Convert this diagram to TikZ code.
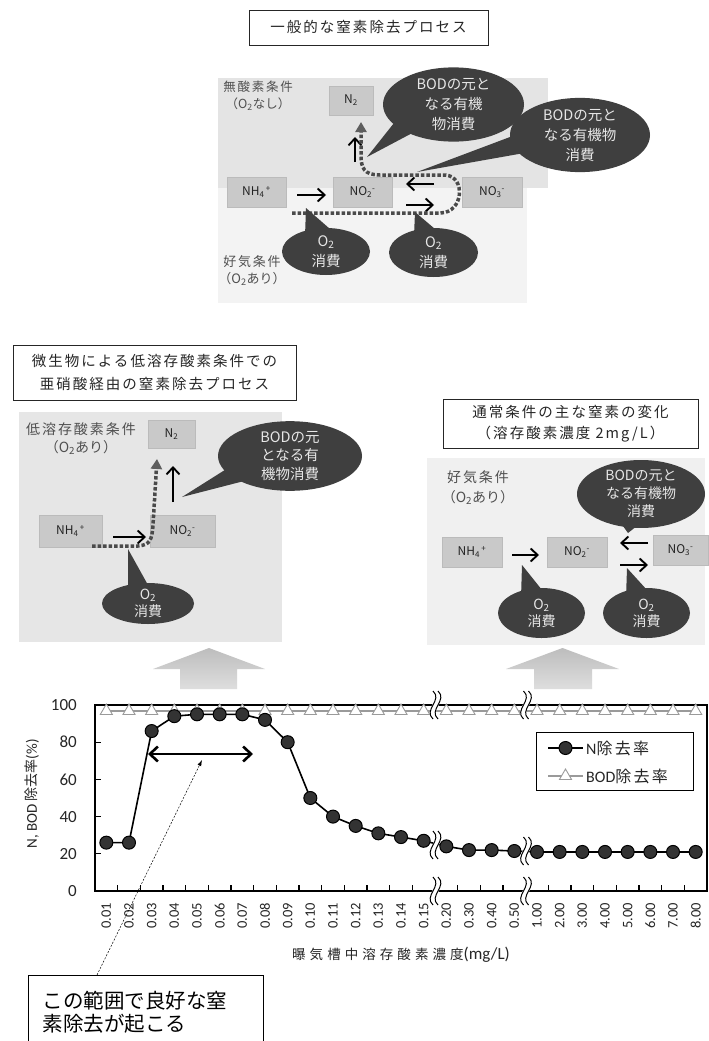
\documentclass[tikz,border=0pt]{standalone}
\usepackage{fontspec}
\setmainfont{Carlito}
\newfontfamily\jp{Noto Sans CJK JP}
\newfontfamily\jpl[LetterSpace=14]{Noto Sans CJK JP}
\newfontfamily\jpw[LetterSpace=30]{Noto Sans CJK JP}
\usetikzlibrary{shapes.geometric,arrows.meta,calc}
\definecolor{bubcol}{HTML}{3F3F3F}
\definecolor{bubtxt}{HTML}{E6E6E6}
\definecolor{boxcol}{HTML}{C9C9C9}
\definecolor{boxedge}{HTML}{BBBBBB}
\definecolor{chemtxt}{HTML}{222222}
\definecolor{condtxt}{HTML}{505050}
\definecolor{dotcol}{HTML}{4A4A4A}
\definecolor{headcol}{HTML}{5E5E5E}
\definecolor{bandA}{HTML}{E4E4E4}
\definecolor{bandB}{HTML}{F3F3F3}
\definecolor{panelL}{HTML}{E6E6E6}
\definecolor{panelR}{HTML}{F0F0F0}
\definecolor{arrtop}{HTML}{BDBDBD}
\definecolor{arrbot}{HTML}{DEDEDE}
\definecolor{ndotfill}{HTML}{333333}
\definecolor{bodcol}{HTML}{9A9A9A}
\newcommand\brkmark[2]{%
  \draw[white, line width=6pt] ({#1+2.5},{#2-14}) .. controls ({#1+12.5},{#2-5}) and ({#1-7.5},{#2+5}) .. ({#1+2.5},{#2+14});
  \draw[line width=1pt] ({#1},{#2-14}) .. controls ({#1+10},{#2-5}) and ({#1-10},{#2+5}) .. ({#1},{#2+14});
  \draw[line width=1pt] ({#1+5},{#2-14}) .. controls ({#1+15},{#2-5}) and ({#1-5},{#2+5}) .. ({#1+5},{#2+14});
}
\begin{document}
\begin{tikzpicture}[x=1pt,y=-1pt,
  bub/.style={ellipse, fill=bubcol, text=bubtxt, inner sep=0pt, align=center, font=\jp\fontsize{14.5}{20}\selectfont},
  bubtail/.style={fill=bubcol},
  chem/.style={rectangle, fill=boxcol, draw=boxedge, line width=0.5pt, inner sep=0pt, text=chemtxt, font=\jp\fontsize{12}{13}\selectfont},
  ttl/.style={draw=black!85, line width=0.9pt, fill=white, align=center, inner sep=0pt, text=black!85, font=\jpl\fontsize{14.5}{23}\selectfont},
  cond/.style={align=center, inner sep=0pt, text=condtxt},
  rxn/.style={line width=1.9pt, -{Straight Barb[length=7pt,width=13pt]}},
  dpath/.style={draw=dotcol, line width=3.5pt, dash pattern=on 3.5pt off 2pt, -{Triangle[length=10pt,width=11pt,color=headcol]}},
  bigarrow/.style={top color=arrtop, bottom color=arrbot},
  axisline/.style={line width=1.2pt},
  nline/.style={line width=1.6pt, black},
  ndot/.style={circle, fill=ndotfill, draw=black, line width=1pt, minimum size=13pt, inner sep=0pt},
  bline/.style={line width=1.3pt, bodcol},
  tri/.style={regular polygon, regular polygon sides=3, draw=bodcol, fill=white, line width=0.9pt, minimum size=14pt, inner sep=0pt},
  xl/.style={font=\fontsize{14.5}{16}\selectfont, inner sep=0pt, text=black!85},
  yl/.style={font=\fontsize{17}{19}\selectfont, inner sep=0pt, text=black!85},
  leader/.style={line width=0.5pt, dash pattern=on 2pt off 1.5pt, -{Latex[length=6pt,width=4pt]}}
]
\useasboundingbox (0,0) rectangle (709,1041);
\fill[white] (0,0) rectangle (709,1041);

% ================= TOP DIAGRAM =================
\node[ttl, minimum width=239, minimum height=35] (t1) at (368.5,27.5) {一般的な窒素除去プロセス};
\fill[bandA] (218,78) rectangle (548,188);
\fill[bandB] (218,188) rectangle (527,303);
\node[cond, font=\jpl\fontsize{12.5}{17}\selectfont] (c1) at (258,96) {無酸素条件\\{\jp（O\textsubscript{2}なし）}};
\node[cond, font=\jpl\fontsize{13}{17}\selectfont] (c2) at (252,270.5) {好気条件\\{\jp（O\textsubscript{2}あり）}};

\node[chem, minimum width=59, minimum height=30] (tNH) at (256.5,192) {NH\textsubscript{4}\textsuperscript{\,+}};
\node[chem, minimum width=59, minimum height=30] (tNO2) at (362.5,192) {NO\textsubscript{2}\textsuperscript{-}};
\node[chem, minimum width=60, minimum height=30] (tNO3) at (492,192) {NO\textsubscript{3}\textsuperscript{-}};
\node[chem, minimum width=44, minimum height=29] (tN2) at (351,100.5) {N\textsubscript{2}};

\coordinate (ta1) at (297,195); \coordinate (ta2) at (326,195);
\coordinate (tb1) at (434,184); \coordinate (tb2) at (406,184);
\coordinate (tc1) at (406,205); \coordinate (tc2) at (434,205);
\coordinate (td1) at (355,162); \coordinate (td2) at (355,137);
\draw[rxn] (ta1) -- (ta2);
\draw[rxn] (tb1) -- (tb2);
\draw[rxn] (tc1) -- (tc2);
\draw[rxn] (td1) -- (td2);

\coordinate (tp0) at (292,213); \coordinate (tpE) at (361,122);
\draw[dpath] (tp0) -- (440,213) .. controls (464,213) and (466,176) .. (445,175) -- (380,175) .. controls (364,175) and (361,168) .. (361,155) -- (tpE);

% bubbles top
\coordinate (bt1tip) at (367,157);
\fill[bubtail] (bt1tip) -- (398,118) -- (418,130) -- cycle;
\node[bub, minimum width=141, minimum height=63] (bt1) at (453.5,104.5) {BODの元と\\なる有機\\物消費};
\coordinate (bt2tip) at (417,172);
\fill[bubtail] (bt2tip) -- (518,134) -- (530,152) -- cycle;
\node[bub, minimum width=140, minimum height=64] (bt2) at (580,135) {BODの元と\\なる有機物\\消費};
\coordinate (bt3tip) at (306,208);
\fill[bubtail] (bt3tip) -- (305,236) -- (330,229) -- cycle;
\node[bub, minimum width=88, minimum height=47] (bt3) at (326,251.5) {O\textsubscript{2}\\消費};
\coordinate (bt4tip) at (415,212);
\fill[bubtail] (bt4tip) -- (414,236) -- (435,229) -- cycle;
\node[bub, minimum width=89, minimum height=49] (bt4) at (433.5,252.5) {O\textsubscript{2}\\消費};

% ================= MIDDLE LEFT =================
\node[ttl, minimum width=283, minimum height=55] (t2) at (154.5,372.5) {微生物による低溶存酸素条件での\\亜硝酸経由の窒素除去プロセス};
\fill[panelL] (19,412) rectangle (282,642);
\node[cond, font=\jpl\fontsize{14}{18}\selectfont] (c3) at (81,439) {低溶存酸素条件\\{\jp（O\textsubscript{2}あり）}};
\node[chem, minimum width=47, minimum height=28] (lN2) at (171.5,434) {N\textsubscript{2}};
\node[chem, minimum width=63, minimum height=32] (lNH) at (70.5,531) {NH\textsubscript{4}\textsuperscript{\,+}};
\node[chem, minimum width=65, minimum height=32] (lNO2) at (182.5,531) {NO\textsubscript{2}\textsuperscript{-}};
\coordinate (la1) at (113,537); \coordinate (la2) at (146,537);
\coordinate (lb1) at (173,502); \coordinate (lb2) at (173,466);
\draw[rxn] (la1) -- (la2);
\draw[rxn] (lb1) -- (lb2);
\coordinate (lp0) at (92,546); \coordinate (lpE) at (157,459);
\draw[dpath] (lp0) -- (138,546) .. controls (150,545) and (152,540) .. (153,525) -- (lpE);

\coordinate (bl1tip) at (182,497);
\fill[bubtail] (bl1tip) -- (228,468) -- (248,480) -- cycle;
\node[bub, minimum width=144, minimum height=68, font=\jp\fontsize{14.5}{18.5}\selectfont] (bl1) at (290,456) {BODの元\\となる有\\機物消費};
\coordinate (bl2tip) at (128,549);
\fill[bubtail] (bl2tip) -- (128,592) -- (148,585) -- cycle;
\node[bub, minimum width=92, minimum height=41, font=\jp\fontsize{14}{17}\selectfont] (bl2) at (148,603.5) {O\textsubscript{2}\\消費};

% ================= MIDDLE RIGHT =================
\node[ttl, minimum width=255, minimum height=49, font=\jpl\fontsize{14.5}{21}\selectfont] (t3) at (570.5,423.5) {通常条件の主な窒素の変化\\（溶存酸素濃度 2mg/L）};
\fill[panelR] (427,458) rectangle (705,645);
\node[cond, font=\jpl\fontsize{14}{20}\selectfont] (c4) at (478,488) {好気条件\\{\jp（O\textsubscript{2}あり）}};
\node[chem, minimum width=60, minimum height=30] (rNH) at (472,552) {NH\textsubscript{4}\textsuperscript{\,+}};
\node[chem, minimum width=60, minimum height=30] (rNO2) at (577,552) {NO\textsubscript{2}\textsuperscript{-}};
\node[chem, minimum width=55, minimum height=30] (rNO3) at (680.5,550) {NO\textsubscript{3}\textsuperscript{-}};
\coordinate (ra1) at (512,555); \coordinate (ra2) at (539,555);
\coordinate (rb1) at (648,543); \coordinate (rb2) at (620,543);
\coordinate (rc1) at (620,565); \coordinate (rc2) at (648,565);
\draw[rxn] (ra1) -- (ra2);
\draw[rxn] (rb1) -- (rb2);
\draw[rxn] (rc1) -- (rc2);

\coordinate (br1tip) at (628,533);
\fill[bubtail] (br1tip) -- (615,515) -- (642,522) -- cycle;
\node[bub, minimum width=128, minimum height=62, font=\jp\fontsize{14}{18}\selectfont] (br1) at (641,494) {BODの元と\\なる有機物\\消費};
\coordinate (br2tip) at (522,565);
\fill[bubtail] (br2tip) -- (521,598) -- (542,590) -- cycle;
\node[bub, minimum width=87, minimum height=50, font=\jp\fontsize{14}{17}\selectfont] (br2) at (541.5,613) {O\textsubscript{2}\\消費};
\coordinate (br3tip) at (627,568);
\fill[bubtail] (br3tip) -- (626,598) -- (647,590) -- cycle;
\node[bub, minimum width=87, minimum height=50, font=\jp\fontsize{14}{17}\selectfont] (br3) at (646.5,613) {O\textsubscript{2}\\消費};

% big arrows
\shade[bigarrow] (153,669) -- (209,648) -- (265,669) -- (237,669) -- (237,689) -- (180,689) -- (180,669) -- cycle;
\shade[bigarrow] (506,669) -- (562.5,648) -- (619,669) -- (592,669) -- (592,689) -- (534,689) -- (534,669) -- cycle;

% ================= CHART =================
\draw[axisline] (95,705) rectangle (707,891);
\foreach \v in {0,20,40,60,80,100}{
  \draw[axisline] (95,{891-1.86*\v}) -- (101,{891-1.86*\v});
  \node[yl, anchor=east] (yl\v) at (77,{891-1.86*\v}) {\v};
}
\foreach \i in {0,1,2,3,4,5,6,7,8,9,10,11,12,13,15,16,17,19,20,21,22,23,24,25}{
  \draw[axisline] ({95+22.667*(\i+1)},891) -- ({95+22.667*(\i+1)},885);
}
\foreach \t [count=\i from 0] in {0.01,0.02,0.03,0.04,0.05,0.06,0.07,0.08,0.09,0.10,0.11,0.12,0.13,0.14,0.15,0.20,0.30,0.40,0.50,1.00,2.00,3.00,4.00,5.00,6.00,7.00,8.00}{
  \node[xl, rotate=90, anchor=east] (xl\i) at ({95+22.667*(\i+0.5)},903) {\t};
}
\node[rotate=90, inner sep=0pt, text=black!85] (ylab) at (32,794) {\fontsize{15}{18}\selectfont N, BOD {\jp\fontsize{14}{15}\selectfont 除去率}(\%)};
\node[inner sep=0pt, text=black!85] (xlab) at (401,955) {{\jpw\fontsize{13.5}{16}\selectfont 曝気槽中溶存酸素濃度}{\fontsize{17}{18}\selectfont (mg/L)}};

% BOD series
\foreach \i in {0,...,26}{ \coordinate (b\i) at ({95+22.667*(\i+0.5)},711); }
\draw[bline] (b0) -- (b26);
\foreach \i in {0,...,26}{ \node[tri] (bt\i) at (b\i) {}; }

% N series
\foreach \v [count=\i from 0] in {26,26,86,94,95,95,95,92,80,50,40,35,31,29,27,24,22,22,21.5,21,21,21,21,21,21,21,21}{
  \coordinate (n\i) at ({95+22.667*(\i+0.5)},{891-1.86*\v});
}
\draw[nline] (n0) \foreach \i in {1,...,26}{ -- (n\i)};
\foreach \i in {0,...,26}{ \node[ndot] (nd\i) at (n\i) {}; }

% axis breaks
\brkmark{433}{705}
\brkmark{433}{845}
\brkmark{433}{891}
\brkmark{523.5}{705}
\brkmark{523.5}{851}
\brkmark{523.5}{891}

% legend
\node[draw, line width=1.1pt, fill=white, minimum width=157, minimum height=58, anchor=north west, inner sep=0pt] (legend) at (536,732) {};
\coordinate (lg1a) at (548,748); \coordinate (lg1b) at (583,748);
\draw[nline] (lg1a) -- (lg1b);
\node[ndot] (lgdot) at (565.5,748) {};
\node[anchor=west, inner sep=0pt, text=black!85] (lgt1) at (586,748) {\fontsize{16}{18}\selectfont N{\jpl 除去率}};
\coordinate (lg2a) at (548,776); \coordinate (lg2b) at (583,776);
\draw[bline] (lg2a) -- (lg2b);
\node[tri] (lgtri) at (565.5,776) {};
\node[anchor=west, inner sep=0pt, text=black!85] (lgt2) at (586,776) {\fontsize{16}{18}\selectfont BOD{\jpl 除去率}};

% range arrow
\coordinate (dA) at (148,754); \coordinate (dB) at (253,754);
\draw[line width=2.6pt, {Straight Barb[length=8pt,width=15pt]}-{Straight Barb[length=8pt,width=15pt]}] (dA) -- (dB);

% callout
\node[draw, line width=1pt, fill=white, anchor=north west, minimum width=235, minimum height=74, text width=207, align=left, inner xsep=14pt, font=\jp\fontsize{20.5}{23}\selectfont] (callout) at (28,975) {この範囲で良好な窒\\素除去が起こる};
\coordinate (lt) at (202,760);
\draw[leader] ($(callout.north west)+(69,0)$) -- (lt);
\end{tikzpicture}
\end{document}
